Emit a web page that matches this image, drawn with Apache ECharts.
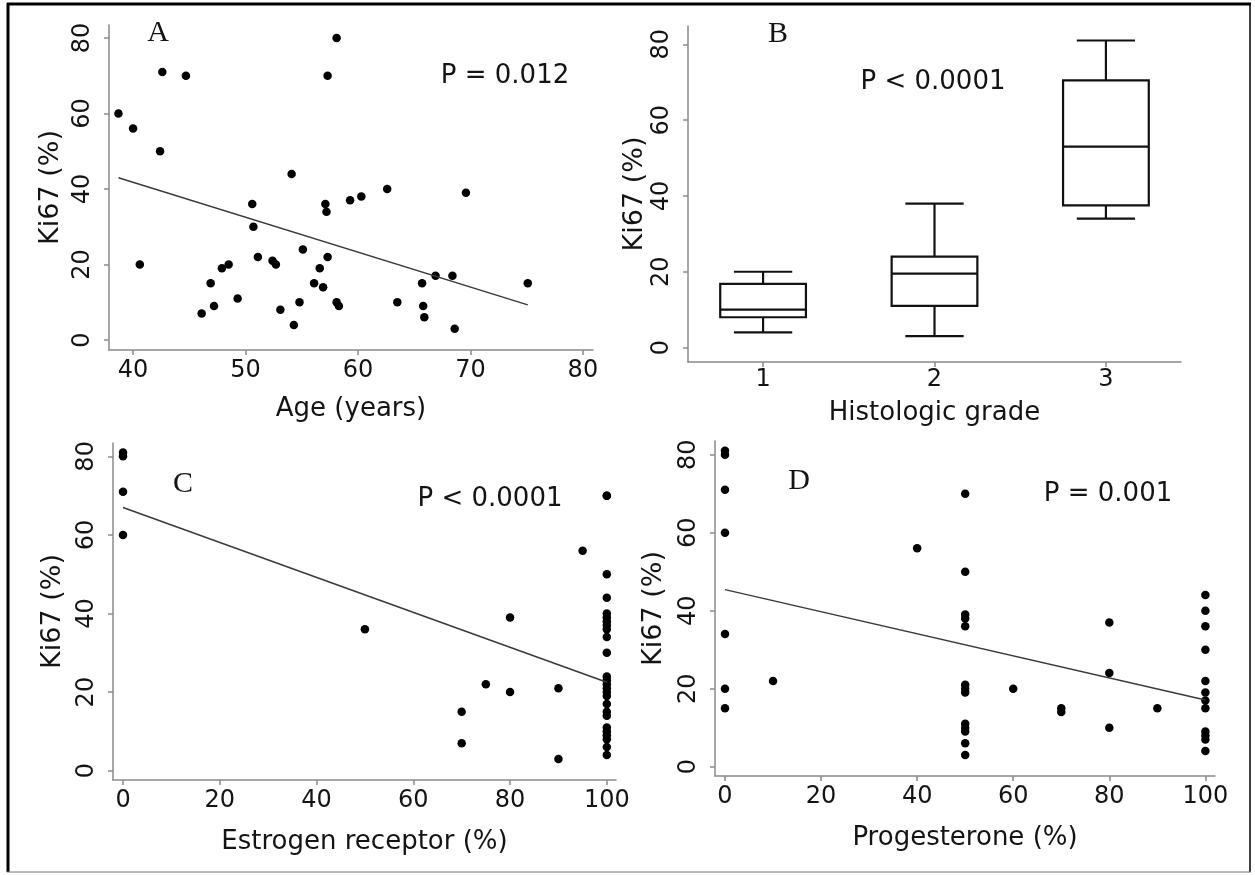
<!DOCTYPE html>
<html><head><meta charset="utf-8">
<script src="https://cdn.jsdelivr.net/npm/echarts@6/dist/echarts.min.js"></script>
<style>html,body{margin:0;padding:0;background:#fff}#c{width:1255px;height:875px}</style>
</head><body><div id="c"></div>
<script>
// ---- Data ----
const ageKi67 = [
  [38.7,60],[40.0,56],[40.6,20],[42.4,50],[42.6,71],[44.7,70],[46.1,7],[46.9,15],
  [47.2,9],[47.9,19],[48.5,20],[49.3,11],[50.6,36],[50.7,30],[51.1,22],[52.4,21],
  [52.7,20],[53.1,8],[54.1,44],[54.3,4],[54.8,10],[55.1,24],[56.1,15],[56.6,19],
  [56.9,14],[57.1,36],[57.2,34],[57.3,22],[57.3,70],[58.1,80],[58.1,10],[58.3,9],
  [59.3,37],[60.3,38],[62.6,40],[63.5,10],[65.7,15],[65.8,9],[65.9,6],[66.9,17],
  [68.4,17],[68.6,3],[69.6,39],[75.1,15]
];
const ageFit = [[38.7,43.0],[75.1,9.3]];

const gradeCategories = [1, 2, 3];
// [min, Q1, median, Q3, max]
const gradeBoxStats = [
  [4, 8, 10, 16.8, 20],
  [3, 11, 19.5, 24, 38],
  [34, 37.5, 53, 70.5, 81]
];

const erKi67 = [
  [0,81],[0,80],[0,71],[0,60],[50,36],[70,15],[70,7],[75,22],[80,39],[80,20],
  [90,21],[90,3],[95,56],
  [100,70],[100,70],[100,50],[100,44],[100,40],[100,39],[100,38],[100,37],[100,36],
  [100,34],[100,30],[100,24],[100,23],[100,22],[100,21],[100,20],[100,19],[100,17],
  [100,15],[100,14],[100,11],[100,10],[100,9],[100,8],[100,6],[100,4]
];
const erFit = [[0,67.0],[100,22.5]];

const prKi67 = [
  [0,81],[0,80],[0,71],[0,60],[0,34],[0,20],[0,15],[10,22],[40,56],
  [50,70],[50,50],[50,39],[50,38],[50,36],[50,21],[50,20],[50,19],[50,11],[50,10],
  [50,9],[50,6],[50,3],
  [60,20],[70,15],[70,14],[80,37],[80,24],[80,10],[90,15],
  [100,44],[100,40],[100,36],[100,30],[100,22],[100,19],[100,17],[100,15],[100,9],
  [100,8],[100,7],[100,4]
];
const prFit = [[0,45.4],[100,17.1]];

const yTicks = [0, 20, 40, 60, 80];
const ageTicks = [40, 50, 60, 70, 80];
const pctTicks = [0, 20, 40, 60, 80, 100];

// ---- Styling helpers ----
const FONT = '"DejaVu Sans", "Liberation Sans", Arial, sans-serif';
const TXT = '#141414';
const AXC = '#8a8a8a';

function xAx(idx, min, max, ticks, name, gap, lblMargin) {
  return {
    type: 'value', gridIndex: idx, min: min, max: max,
    name: name, nameLocation: 'middle', nameGap: gap,
    nameTextStyle: {fontFamily: FONT, fontSize: 26, color: TXT},
    axisLine: {show: true, onZero: false, lineStyle: {color: AXC, width: 1.5}},
    axisTick: {show: true, inside: false, length: 5, customValues: ticks, lineStyle: {color: AXC, width: 1.5}},
    axisLabel: {customValues: ticks, margin: lblMargin, fontFamily: FONT, fontSize: 24, color: TXT},
    splitLine: {show: false}
  };
}
function yAx(idx, min, max, gap) {
  return {
    type: 'value', gridIndex: idx, min: min, max: max,
    name: 'Ki67 (%)', nameLocation: 'middle', nameGap: gap, nameRotate: 90,
    nameTextStyle: {fontFamily: FONT, fontSize: 27, color: TXT},
    axisLine: {show: true, onZero: false, lineStyle: {color: AXC, width: 1.5}},
    axisTick: {show: true, inside: false, length: 5, customValues: yTicks, lineStyle: {color: AXC, width: 1.5}},
    axisLabel: {customValues: yTicks, rotate: 90, margin: 14, fontFamily: FONT, fontSize: 24, color: TXT},
    splitLine: {show: false}
  };
}
function scatter(idx, data) {
  return {type: 'scatter', xAxisIndex: idx, yAxisIndex: idx, data: data,
    symbol: 'circle', symbolSize: 8.5, itemStyle: {color: '#000', opacity: 1}, silent: true};
}
function fit(idx, data) {
  return {type: 'line', xAxisIndex: idx, yAxisIndex: idx, data: data,
    showSymbol: false, lineStyle: {color: '#3a3a3a', width: 1.5}, silent: true};
}
function txt(x, y, s, size, serif) {
  return {type: 'text', x: x, y: y, silent: true, style: {
    text: s, fontSize: size, fontFamily: serif ? '"Liberation Serif", "DejaVu Serif", serif' : FONT,
    fill: TXT, align: 'center', verticalAlign: 'middle'}};
}

const boxData = gradeCategories.map((g, i) => [g].concat(gradeBoxStats[i]));

const chart = echarts.init(document.getElementById('c'), null, {renderer: 'canvas'});
chart.setOption({
  animation: false,
  backgroundColor: '#fff',
  grid: [
    {left: 109, top: 25, width: 484, height: 325},
    {left: 688, top: 26, width: 493, height: 336},
    {left: 113, top: 443, width: 503, height: 337},
    {left: 715, top: 441, width: 500, height: 335}
  ],
  xAxis: [
    xAx(0, 37.86, 80.9, ageTicks, 'Age (years)', 46, 9),
    xAx(1, 0.562, 3.438, gradeCategories, 'Histologic grade', 38, 6),
    xAx(2, -2.07, 101.9, pctTicks, 'Estrogen receptor (%)', 49, 9),
    xAx(3, -2.08, 102.0, pctTicks, 'Progesterone (%)', 49, 9)
  ],
  yAxis: [
    yAx(0, -2.65, 83.44, 45),
    yAx(1, -3.80, 84.83, 40),
    yAx(2, -2.37, 83.4, 47),
    yAx(3, -2.38, 83.5, 48)
  ],
  series: [
    scatter(0, ageKi67), fit(0, ageFit),
    {
      type: 'custom', xAxisIndex: 1, yAxisIndex: 1, data: boxData,
      encode: {x: 0, y: [1, 2, 3, 4, 5]}, silent: true,
      renderItem: function (params, api) {
        const x = api.value(0);
        const half = api.size([0.5, 0])[0] / 2;
        const capHalf = api.size([0.34, 0])[0] / 2;
        const pMin = api.coord([x, api.value(1)]);
        const pQ1 = api.coord([x, api.value(2)]);
        const pMed = api.coord([x, api.value(3)]);
        const pQ3 = api.coord([x, api.value(4)]);
        const pMax = api.coord([x, api.value(5)]);
        const cx = pMin[0];
        const st = {stroke: '#111', lineWidth: 2.2, fill: null};
        return {type: 'group', children: [
          {type: 'line', shape: {x1: cx, y1: pMax[1], x2: cx, y2: pQ3[1]}, style: st},
          {type: 'line', shape: {x1: cx, y1: pQ1[1], x2: cx, y2: pMin[1]}, style: st},
          {type: 'line', shape: {x1: cx - capHalf, y1: pMax[1], x2: cx + capHalf, y2: pMax[1]}, style: st},
          {type: 'line', shape: {x1: cx - capHalf, y1: pMin[1], x2: cx + capHalf, y2: pMin[1]}, style: st},
          {type: 'rect', shape: {x: cx - half, y: pQ3[1], width: half * 2, height: pQ1[1] - pQ3[1]}, style: {stroke: '#111', lineWidth: 2.2, fill: '#fff'}},
          {type: 'line', shape: {x1: cx - half, y1: pMed[1], x2: cx + half, y2: pMed[1]}, style: st}
        ]};
      }
    },
    scatter(2, erKi67), fit(2, erFit),
    scatter(3, prKi67), fit(3, prFit)
  ],
  graphic: [
    {type: 'line', silent: true, shape: {x1: 7, y1: 4, x2: 1251, y2: 4}, style: {stroke: '#000', lineWidth: 3}},
    {type: 'line', silent: true, shape: {x1: 8, y1: 3, x2: 8, y2: 872}, style: {stroke: '#000', lineWidth: 3}},
    {type: 'line', silent: true, shape: {x1: 1250, y1: 3, x2: 1250, y2: 872}, style: {stroke: '#000', lineWidth: 1.5}},
    {type: 'line', silent: true, shape: {x1: 7, y1: 872, x2: 1251, y2: 872}, style: {stroke: '#777', lineWidth: 1}},
    txt(158, 33, 'A', 30, true),
    txt(778, 34, 'B', 30, true),
    txt(183, 484, 'C', 30, true),
    txt(799, 481, 'D', 30, true),
    txt(505, 76, 'P = 0.012', 26),
    txt(933, 82, 'P < 0.0001', 26),
    txt(490, 499, 'P < 0.0001', 26),
    txt(1108, 494, 'P = 0.001', 26)
  ]
});
</script></body></html>
